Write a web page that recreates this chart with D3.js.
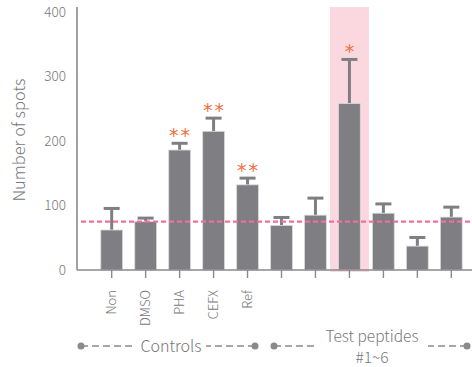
<!DOCTYPE html>
<html>
<head>
<meta charset="utf-8">
<script src="https://cdn.jsdelivr.net/npm/d3@7"></script>
<style>
  body { margin: 0; background: #fff; }
  text { font-family: "Noto Sans CJK KR", "Noto Sans", sans-serif; font-weight: 300; }
</style>
</head>
<body>
<div id="chart"></div>
<script>
// chart data
const categories = ['Non', 'DMSO', 'PHA', 'CEFX', 'Ref', 'T1', 'T2', 'T3', 'T4', 'T5', 'T6'];
const tickLabels = ['Non', 'DMSO', 'PHA', 'CEFX', 'Ref', '', '', '', '', '', ''];
const means = [62, 75, 186, 215, 132, 69, 85, 258, 88, 37, 82];
const errors = [35, 7, 12, 22, 12, 14, 28, 70, 16, 15, 17];
const stars = ['', '', '**', '**', '**', '', '', '*', '', '', ''];
const yTicks = [0, 100, 200, 300, 400];
const baseline = 75;
const highlighted = ['T3'];

const width = 472, height = 367;
const axisColor = '#8a8a8c';
const barColor = '#7f7f83';
const textColor = '#77777a';

const svg = d3.select('#chart').append('svg')
    .attr('width', width)
    .attr('height', height);

const x = d3.scaleBand()
    .domain(categories)
    .range([94.7, 468.3])
    .paddingInner(0.36)
    .paddingOuter(0.18);

const y = d3.scaleLinear()
    .domain([0, 400])
    .range([270, 12]);

// highlight band
svg.selectAll('.hl')
    .data(highlighted)
    .enter().append('rect')
    .attr('class', 'hl')
    .attr('x', d => x(d) + x.bandwidth() / 2 - 19.5)
    .attr('width', 39)
    .attr('y', 7)
    .attr('height', y(0) - 7 + 2)
    .attr('fill', '#fbd8df');

// error bars (drawn behind bars)
const eb = svg.append('g');
categories.forEach((c, i) => {
    const cx = x(c) + x.bandwidth() / 2;
    eb.append('line')
        .attr('x1', cx).attr('x2', cx)
        .attr('y1', y(means[i])).attr('y2', y(means[i] + errors[i]))
        .attr('stroke', barColor).attr('stroke-width', 3);
    eb.append('line')
        .attr('x1', cx - 8).attr('x2', cx + 8)
        .attr('y1', y(means[i] + errors[i]) + 1).attr('y2', y(means[i] + errors[i]) + 1)
        .attr('stroke', barColor).attr('stroke-width', 3);
});

// bars
svg.selectAll('.bar')
    .data(categories)
    .enter().append('rect')
    .attr('class', 'bar')
    .attr('x', d => x(d))
    .attr('width', x.bandwidth())
    .attr('y', (d, i) => y(means[i]))
    .attr('height', (d, i) => y(0) - y(means[i]))
    .attr('fill', barColor)
    .attr('stroke', '#d8d8da')
    .attr('stroke-width', 0.8);

// significance stars
svg.selectAll('.star')
    .data(categories)
    .enter().append('text')
    .attr('class', 'star')
    .attr('x', d => x(d) + x.bandwidth() / 2 + 1)
    .attr('y', (d, i) => y(means[i] + errors[i]) - 10.5 + 10.5)
    .attr('text-anchor', 'middle')
    .attr('fill', '#f26f3e')
    .style('font-family', 'DejaVu Sans')
    .style('font-weight', 400)
    .style('font-size', '19px')
    .style('letter-spacing', '2px')
    .text((d, i) => stars[i]);

// baseline dashed line
svg.append('line')
    .attr('x1', 81).attr('x2', width)
    .attr('y1', y(baseline)).attr('y2', y(baseline))
    .attr('stroke', '#ef709a')
    .attr('stroke-width', 2.2)
    .attr('stroke-dasharray', '5,3');

// y axis
const yAxis = svg.append('g')
    .attr('transform', 'translate(77,0)')
    .call(d3.axisLeft(y).tickValues(yTicks).tickSize(0).tickPadding(11));
yAxis.select('.domain').attr('d', `M0,7V${y(0)}`).attr('stroke', axisColor).attr('stroke-width', 1.6);
yAxis.selectAll('text')
    .attr('fill', textColor)
    .style('font-size', '13.5px');

// x axis
const xAxis = svg.append('g')
    .attr('transform', `translate(0,${y(0)})`)
    .call(d3.axisBottom(x).tickSize(8).tickFormat((d, i) => tickLabels[i]));
xAxis.select('.domain').attr('d', `M77,0H${width}`).attr('stroke', axisColor).attr('stroke-width', 1.6);
xAxis.selectAll('.tick line').attr('stroke', axisColor).attr('stroke-width', 1.4);
xAxis.selectAll('text')
    .attr('fill', textColor)
    .style('font-size', '13px')
    .attr('text-anchor', 'end')
    .attr('transform', 'rotate(-90)')
    .attr('x', -20)
    .attr('y', 0)
    .attr('dy', '0.35em');

// y axis title
svg.append('text')
    .attr('transform', 'rotate(-90)')
    .attr('x', -140)
    .attr('y', 25)
    .attr('text-anchor', 'middle')
    .attr('fill', textColor)
    .style('font-size', '16.5px')
    .text('Number of spots');

// group brackets
const groupY = 346;
const groups = [
    { x1: 81, x2: 255, label: ['Controls'], gapL: 136, gapR: 206 },
    { x1: 274, x2: 467, label: ['Test peptides', '#1~6'], gapL: 316, gapR: 428 }
];
groups.forEach(g => {
    [[g.x1, g.gapL], [g.x2, g.gapR]].forEach(seg => {
        svg.append('line')
            .attr('x1', seg[0]).attr('x2', seg[1])
            .attr('y1', groupY).attr('y2', groupY)
            .attr('stroke', axisColor)
            .attr('stroke-width', 1.4)
            .attr('stroke-dasharray', '7,4');
    });
    [g.x1, g.x2].forEach(cx => {
        svg.append('circle')
            .attr('cx', cx).attr('cy', groupY).attr('r', 3.5)
            .attr('fill', axisColor);
    });
    const cx = (g.gapL + g.gapR) / 2;
    if (g.label.length === 1) {
        svg.append('text')
            .attr('x', cx).attr('y', groupY + 6)
            .attr('text-anchor', 'middle')
            .attr('fill', textColor)
            .style('font-size', '16px')
            .text(g.label[0]);
    } else {
        svg.append('text')
            .attr('x', cx).attr('y', 342)
            .attr('text-anchor', 'middle')
            .attr('fill', textColor)
            .style('font-size', '15.5px')
            .text(g.label[0]);
        svg.append('text')
            .attr('x', cx).attr('y', 363)
            .attr('text-anchor', 'middle')
            .attr('fill', textColor)
            .style('font-size', '15.5px')
            .text(g.label[1]);
    }
});
</script>
</body>
</html>
